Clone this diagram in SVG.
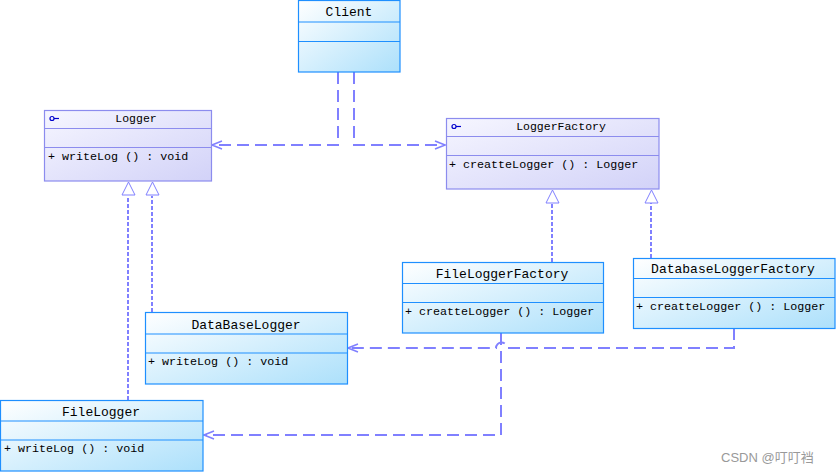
<svg xmlns="http://www.w3.org/2000/svg" width="837" height="474" viewBox="0 0 837 474">
<defs>
<linearGradient id="gb" x1="0" y1="0" x2="1" y2="1"><stop offset="0" stop-color="#FFFFFF"/><stop offset="1" stop-color="#ACE0FB"/></linearGradient>
<linearGradient id="gp" x1="0" y1="0" x2="1" y2="1"><stop offset="0" stop-color="#F6F6FF"/><stop offset="1" stop-color="#D2D2F8"/></linearGradient>
<marker id="open" markerWidth="12" markerHeight="10" refX="11" refY="5" orient="auto" markerUnits="userSpaceOnUse"><path d="M1,1 L11,5 L1,9" fill="none" stroke="#8080FF" stroke-width="1.5"/></marker>
</defs>
<style>
.bb{fill:url(#gb);stroke:#1E8FFF;stroke-width:1.2}
.pb{fill:url(#gp);stroke:#8C8CEE;stroke-width:1.2}
.bl{stroke:#1E8FFF;stroke-width:1.2}
.pl{stroke:#8C8CEE;stroke-width:1.2}
.t{font-family:"Liberation Mono",monospace;fill:#000;}
.h{font-size:13px;text-anchor:middle}
.hs{font-size:11.5px;text-anchor:middle}
.a{font-size:11.7px}
.dep{fill:none;stroke:#8080FF;stroke-width:2;stroke-dasharray:12,6}
.inh{fill:none;stroke:#8080FF;stroke-width:2;stroke-dasharray:4,2}
</style>
<g id="connectors">
<path class="dep" d="M338,72 V145 H212" marker-end="url(#open)"/>
<path class="dep" d="M354,72 V145 H445" marker-end="url(#open)"/>
<path class="inh" d="M128,400 V196"/>
<path class="inh" d="M152,312 V196"/>
<path class="inh" d="M552,262 V203"/>
<path class="inh" d="M651,258 V203"/>
<path class="dep" d="M501,333 V435 H204" marker-end="url(#open)"/>
<path class="dep" d="M734,328 V348 H507 A5,5 0 0 0 496,348 H348" marker-end="url(#open)"/>
<g fill="#FFFFFF" stroke="#8080FF" stroke-width="1">
<path d="M128.5,182 L122,195 L135,195 Z"/>
<path d="M152.5,182 L146,195 L159,195 Z"/>
<path d="M552.5,190 L546,203 L559,203 Z"/>
<path d="M651.5,190 L645,203 L658,203 Z"/>
</g>
</g>
<g id="Client">
<rect class="bb" x="298.5" y="0.5" width="101.5" height="71.5"/>
<line class="bl" x1="298.5" y1="22" x2="400" y2="22"/>
<line class="bl" x1="298.5" y1="41.5" x2="400" y2="41.5"/>
<text class="t h" x="349" y="16">Client</text>
</g>
<g id="Logger">
<rect class="pb" x="44.5" y="110.5" width="167" height="70.5"/>
<line class="pl" x1="44.5" y1="128.5" x2="211.5" y2="128.5"/>
<line class="pl" x1="44.5" y1="147.5" x2="211.5" y2="147.5"/>
<circle cx="52" cy="118.5" r="2" fill="none" stroke="#0000CC" stroke-width="1.2"/>
<line x1="54" y1="118.5" x2="59" y2="118.5" stroke="#0000CC" stroke-width="1.2"/>
<text class="t hs" x="136" y="122">Logger</text>
<text class="t a" x="48" y="160">+ writeLog () : void</text>
</g>
<g id="LoggerFactory">
<rect class="pb" x="446.5" y="118.5" width="212.5" height="70.5"/>
<line class="pl" x1="446.5" y1="136.5" x2="659" y2="136.5"/>
<line class="pl" x1="446.5" y1="155.5" x2="659" y2="155.5"/>
<circle cx="454" cy="126.5" r="2" fill="none" stroke="#0000CC" stroke-width="1.2"/>
<line x1="456" y1="126.5" x2="461" y2="126.5" stroke="#0000CC" stroke-width="1.2"/>
<text class="t hs" x="561" y="130">LoggerFactory</text>
<text class="t a" x="449" y="168">+ creatteLogger () : Logger</text>
</g>
<g id="DataBaseLogger">
<rect class="bb" x="145.5" y="312.5" width="202" height="71.5"/>
<line class="bl" x1="145.5" y1="334" x2="347.5" y2="334"/>
<line class="bl" x1="145.5" y1="353" x2="347.5" y2="353"/>
<text class="t h" x="246" y="329">DataBaseLogger</text>
<text class="t a" x="148" y="365">+ writeLog () : void</text>
</g>
<g id="FileLogger">
<rect class="bb" x="0.5" y="400.5" width="202.5" height="70.5"/>
<line class="bl" x1="0.5" y1="421" x2="203" y2="421"/>
<line class="bl" x1="0.5" y1="440" x2="203" y2="440"/>
<text class="t h" x="101" y="416">FileLogger</text>
<text class="t a" x="4" y="452">+ writeLog () : void</text>
</g>
<g id="FileLoggerFactory">
<rect class="bb" x="402.5" y="262.5" width="201" height="70.5"/>
<line class="bl" x1="402.5" y1="283.5" x2="603.5" y2="283.5"/>
<line class="bl" x1="402.5" y1="302.5" x2="603.5" y2="302.5"/>
<text class="t h" x="502" y="278">FileLoggerFactory</text>
<text class="t a" x="405" y="315">+ creatteLogger () : Logger</text>
</g>
<g id="DatabaseLoggerFactory">
<rect class="bb" x="633.5" y="258.5" width="201.5" height="70"/>
<line class="bl" x1="633.5" y1="278.5" x2="835" y2="278.5"/>
<line class="bl" x1="633.5" y1="297.5" x2="835" y2="297.5"/>
<text class="t h" x="733" y="273">DatabaseLoggerFactory</text>
<text class="t a" x="636" y="310">+ creatteLogger () : Logger</text>
</g>
<text x="721" y="462" font-family="'Liberation Sans','Noto Sans CJK SC',sans-serif" font-size="13" fill="#999999">CSDN @叮叮裆</text>
</svg>
